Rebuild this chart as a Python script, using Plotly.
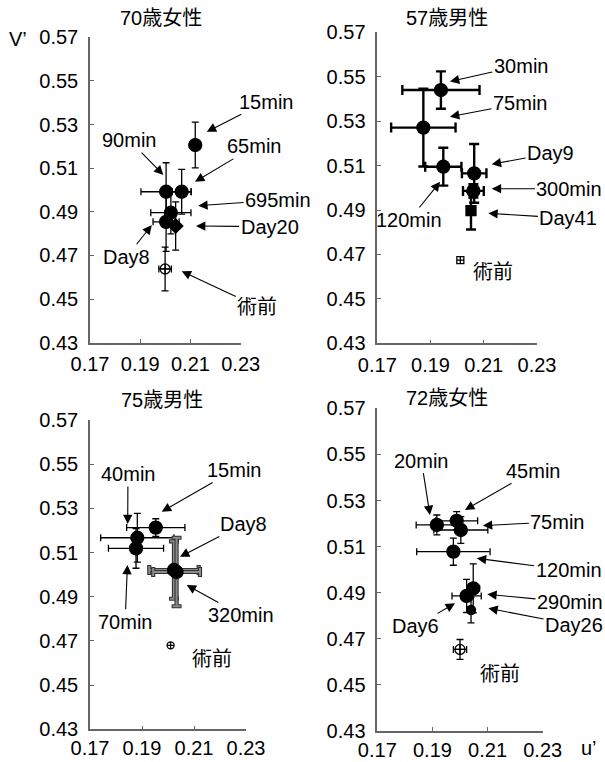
import plotly.graph_objects as go

# ---------------- data ----------------
TICK_U = [0.17, 0.19, 0.21, 0.23]
TICK_V = [0.43, 0.45, 0.47, 0.49, 0.51, 0.53, 0.55, 0.57]

P1_TITLE = "70歳女性"
P1_LABELS = ["15min", "65min", "90min", "695min", "Day8", "Day20", "術前"]
P1_U = [0.2119, 0.2065, 0.2003, 0.2022, 0.2003, 0.2041, 0.1999]
P1_V = [0.5206, 0.4992, 0.4992, 0.4896, 0.4854, 0.4835, 0.4638]
P1_UERR = [0.0, 0.0037, 0.0100, 0.0080, 0.0052, 0.0, 0.0025]
P1_VERR = [0.0105, 0.0103, 0.0133, 0.0097, 0.0135, 0.0111, 0.0100]

P2_TITLE = "57歳男性"
P2_LABELS = ["30min", "75min", "120min", "Day9", "300min", "Day41", "術前"]
P2_U = [0.1939, 0.1873, 0.1948, 0.2064, 0.2061, 0.2052, 0.2012]
P2_V = [0.5440, 0.5271, 0.5095, 0.5065, 0.4986, 0.4897, 0.4674]
P2_UERR = [0.0145, 0.0121, 0.0068, 0.0046, 0.0039, 0.0, 0.0]
P2_VERR = [0.0084, 0.0175, 0.0085, 0.0132, 0.0030, 0.0085, 0.0]

P3_TITLE = "75歳男性"
P3_LABELS = ["15min", "40min", "70min", "Day8", "320min", "術前"]
P3_U = [0.1953, 0.1882, 0.1877, 0.2023, 0.2033, 0.2010]
P3_V = [0.5213, 0.5167, 0.5119, 0.5021, 0.5012, 0.4680]
P3_UERR = [0.0112, 0.0141, 0.0106, 0.0095, 0.0090, 0.0]
P3_VERR = [0.0040, 0.0110, 0.0090, 0.0130, 0.0155, 0.0]

P4_TITLE = "72歳女性"
P4_LABELS = ["20min", "45min", "75min", "120min", "290min", "Day6", "Day26", "術前"]
P4_U = [0.1916, 0.1988, 0.2003, 0.1976, 0.2048, 0.2024, 0.2040, 0.2000]
P4_V = [0.5194, 0.5212, 0.5172, 0.5078, 0.4919, 0.4886, 0.4825, 0.4654]
P4_UERR = [0.0075, 0.0076, 0.0098, 0.0133, 0.0023, 0.0053, 0.0, 0.0024]
P4_VERR = [0.0043, 0.0040, 0.0058, 0.0059, 0.0106, 0.0072, 0.0056, 0.0043]

# ---------------- layout / style ----------------
FONT = "Liberation Sans, Arial, Helvetica, Noto Sans CJK JP, sans-serif"
FS = 20
W, H = 605, 762

# panel geometry in pixels: (left, right, top, bottom) of axis box
GEOM = [
    (90, 240.7, 37.3, 342.7),
    (377.3, 537.0, 32.3, 343.3),
    (90, 246.0, 420.0, 729.3),
    (377.3, 542.7, 408.3, 731.0),
]
XLABEL_STANDOFF = [3, 3, 0, 0]
TITLE_POS = [(161, 18), (447, 18), (162, 400), (447, 398)]

# label placement: label -> (head_u, head_v, text_u, text_v, arrow)
ANN = [
    {"15min": (0.2165, 0.5267, 0.2400, 0.5405, True),
     "65min": (0.2118, 0.5038, 0.2354, 0.5200, True),
     "90min": (0.1992, 0.5069, 0.1857, 0.5229, True),
     "695min": (0.2131, 0.4928, 0.2449, 0.4954, True),
     "Day20": (0.2122, 0.4835, 0.2415, 0.4832, True),
     "Day8": (0.1946, 0.4839, 0.1846, 0.4694, True),
     "術前": (0.2065, 0.4628, 0.2366, 0.4465, True)},
    {"30min": (0.1973, 0.5478, 0.2239, 0.5550, True),
     "75min": (0.1973, 0.5320, 0.2236, 0.5380, True),
     "Day9": (0.2130, 0.5106, 0.2351, 0.5155, True),
     "300min": (0.2130, 0.4996, 0.2422, 0.4996, True),
     "Day41": (0.2117, 0.4885, 0.2418, 0.4863, True),
     "120min": (0.1936, 0.5027, 0.1820, 0.4855, True),
     "術前": (None, None, 0.2134, 0.4622, False)},
    {"40min": (0.1845, 0.5229, 0.1846, 0.5456, True),
     "15min": (0.1976, 0.5285, 0.2255, 0.5474, True),
     "Day8": (0.2046, 0.5081, 0.2291, 0.5229, True),
     "320min": (0.2072, 0.4953, 0.2280, 0.4817, True),
     "70min": (0.1844, 0.5044, 0.1835, 0.4787, True),
     "術前": (None, None, 0.2169, 0.4617, False)},
    {"20min": (0.1891, 0.5237, 0.1860, 0.5473, True),
     "45min": (0.2018, 0.5259, 0.2266, 0.5429, True),
     "75min": (0.2083, 0.5191, 0.2353, 0.5208, True),
     "120min": (0.2061, 0.5049, 0.2394, 0.4998, True),
     "290min": (0.2099, 0.4893, 0.2399, 0.4859, True),
     "Day26": (0.2103, 0.4832, 0.2414, 0.4760, True),
     "Day6": (0.1982, 0.4854, 0.1840, 0.4756, True),
     "術前": (None, None, 0.2145, 0.4547, False)},
]

# marker style per panel & label
SYMBOLS = [
    {"Day20": ("diamond", 11), "術前": ("circle-cross-open", 10)},
    {"Day41": ("square", 10), "術前": ("square-cross-open", 7)},
    {"術前": ("circle-cross-open", 7)},
    {"Day26": ("circle", 9), "術前": ("circle-cross-open", 10)},
]
# error bar styles: list of (color, thickness, cap half-width) layers
DEFAULT_ERR = [("black", 1.3, 3.5)]
ERR_STYLE = [
    {},
    {"*": [("black", 2.4, 5)]},
    {"Day8": [("#333", 4.2, 5), ("#8a8a8a", 2.0, 4)],
     "320min": [("#333", 4.2, 5), ("#8a8a8a", 2.0, 4)]},
    {},
]

PANELS = [
    (P1_TITLE, P1_LABELS, P1_U, P1_V, P1_UERR, P1_VERR),
    (P2_TITLE, P2_LABELS, P2_U, P2_V, P2_UERR, P2_VERR),
    (P3_TITLE, P3_LABELS, P3_U, P3_V, P3_UERR, P3_VERR),
    (P4_TITLE, P4_LABELS, P4_U, P4_V, P4_UERR, P4_VERR),
]

fig = go.Figure()
annotations = []
layout_axes = {}

for i, (title, labels, us, vs, ues, ves) in enumerate(PANELS):
    n = i + 1
    xa = "x" if n == 1 else f"x{n}"
    ya = "y" if n == 1 else f"y{n}"
    l, r, t, b = GEOM[i]
    # error bars (layered) first, markers on top
    for j, lab in enumerate(labels):
        layers = ERR_STYLE[i].get(lab, ERR_STYLE[i].get("*", DEFAULT_ERR))
        for col, th, cw in layers:
            fig.add_trace(go.Scatter(
                x=[us[j]], y=[vs[j]], xaxis=xa, yaxis=ya, mode="none",
                showlegend=False, hoverinfo="skip", cliponaxis=False,
                error_x=dict(type="data", array=[ues[j]], visible=ues[j] > 0,
                             color=col, thickness=th, width=cw),
                error_y=dict(type="data", array=[ves[j]], visible=ves[j] > 0,
                             color=col, thickness=th, width=cw),
            ))
    for j, lab in enumerate(labels):
        sym, size = SYMBOLS[i].get(lab, ("circle", 13))
        fig.add_trace(go.Scatter(
            x=[us[j]], y=[vs[j]], xaxis=xa, yaxis=ya, mode="markers",
            showlegend=False, cliponaxis=False, name=lab,
            marker=dict(symbol=sym, size=size, color="black",
                        line=dict(color="black", width=1.3)),
        ))
    axis_common = dict(showgrid=False, zeroline=False, showline=True,
                       linecolor="#666", linewidth=1.5,
                       tickfont=dict(family=FONT, size=FS, color="black"),
                       tickcolor="#666", tickwidth=1.2,
                       ticks="inside", ticklen=4, fixedrange=True,
                       automargin=False)
    layout_axes["xaxis" if n == 1 else f"xaxis{n}"] = dict(
        axis_common, domain=[l / W, r / W], range=[0.17, 0.23],
        tickvals=TICK_U, ticktext=[f"{v:.2f}" for v in TICK_U],
        ticklabelstandoff=XLABEL_STANDOFF[i], anchor=ya)
    layout_axes["yaxis" if n == 1 else f"yaxis{n}"] = dict(
        axis_common, domain=[1 - b / H, 1 - t / H], range=[0.43, 0.57],
        tickvals=TICK_V, ticktext=[f"{v:.2f}" for v in TICK_V],
        ticklabelstandoff=6, anchor=xa)

    tx, ty = TITLE_POS[i]
    annotations.append(dict(text=title, x=tx / W, y=1 - ty / H, xref="paper",
                            yref="paper", showarrow=False, xanchor="center",
                            yanchor="middle",
                            font=dict(family=FONT, size=FS, color="black")))
    for lab, (hu, hv, tu, tv, arrow) in ANN[i].items():
        if arrow:
            annotations.append(dict(
                text=lab, x=hu, y=hv, ax=tu, ay=tv, xref=xa, yref=ya,
                axref=xa, ayref=ya, showarrow=True, arrowhead=2,
                arrowsize=1.7, arrowwidth=1.1, arrowcolor="black",
                font=dict(family=FONT, size=FS, color="black")))
        else:
            annotations.append(dict(
                text=lab, x=tu, y=tv, xref=xa, yref=ya, showarrow=False,
                xanchor="center", yanchor="middle",
                font=dict(family=FONT, size=FS, color="black")))

annotations.append(dict(text="V’", x=18 / W, y=1 - 39 / H, xref="paper",
                        yref="paper", showarrow=False, xanchor="center",
                        yanchor="middle",
                        font=dict(family=FONT, size=FS, color="black")))
annotations.append(dict(text="u’", x=589 / W, y=1 - 748 / H, xref="paper",
                        yref="paper", showarrow=False, xanchor="center",
                        yanchor="middle",
                        font=dict(family=FONT, size=FS, color="black")))

fig.update_layout(
    width=W, height=H,
    margin=dict(l=0, r=0, t=0, b=0, pad=0, autoexpand=False),
    paper_bgcolor="white", plot_bgcolor="white",
    annotations=annotations, **layout_axes)

fig.write_html("out.html", config={"displayModeBar": False})
